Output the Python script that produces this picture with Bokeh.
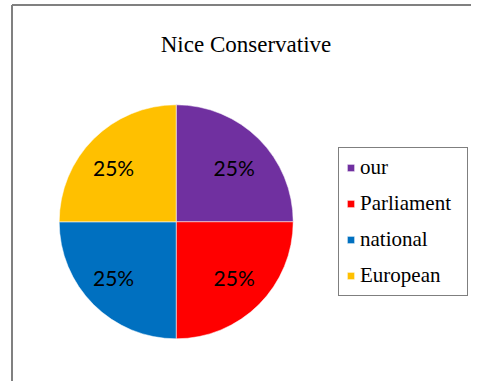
import math
from bokeh.plotting import figure
from bokeh.models import Range1d, Legend, LegendItem, Label
from bokeh.core.properties import value
from bokeh.embed import file_html
from bokeh.resources import INLINE

# ---- data ----
title_text = "Nice Conservative"
categories = ["our", "Parliament", "national", "European"]
values = [25, 25, 25, 25]
colors = ["#7030A0", "#FF0000", "#0070C0", "#FFC000"]

W, H = 471, 381
p = figure(width=W, height=H, output_backend="svg", toolbar_location=None,
           x_range=Range1d(0, W), y_range=Range1d(0, H), min_border=0)
p.axis.visible = False
p.grid.visible = False
p.outline_line_color = None
p.background_fill_color = "white"
p.border_fill_color = "white"

# pie geometry (screen px == data units)
cx, cy, r = 175.7, H - 221.3, 117
# label placement (page px): centre and offsets
lcx, lcy, ldx, ldy = 173.4, H - 222.2, 60.3, 55.2
total = float(sum(values))
starts, ends, lx, ly, labels = [], [], [], [], []
cum = 0.0
for v in values:
    frac = v / total
    a0 = math.pi / 2 - cum * 2 * math.pi
    a1 = math.pi / 2 - (cum + frac) * 2 * math.pi
    mid = (a0 + a1) / 2
    starts.append(a0)
    ends.append(a1)
    lx.append(lcx + ldx * math.cos(mid) / math.cos(math.pi / 4))
    ly.append(lcy + ldy * math.sin(mid) / math.sin(math.pi / 4))
    labels.append(f"{round(frac * 100)}%")
    cum += frac

renderers = []
for i in range(len(values)):
    rr = p.wedge(x=cx, y=cy, radius=r, radius_units="screen",
                 start_angle=starts[i], end_angle=ends[i], direction="clock",
                 fill_color=colors[i], line_color="white", line_width=0.5)
    renderers.append(rr)

p.text(x=lx, y=ly, text=labels, text_align="center", text_baseline="middle",
       text_font=value("Lato"), text_font_size="21px", text_color="#000000")

# title
p.add_layout(Label(x=245.5, y=H - 44.3, x_units="screen", y_units="screen",
                   text=title_text, text_align="center", text_baseline="alphabetic",
                   text_font="Liberation Serif", text_font_size="23px",
                   text_color="#000000"))

# legend
items = [LegendItem(label=c, renderers=[rr]) for c, rr in zip(categories, renderers)]
legend = Legend(items=items, location=(338, H - 296), orientation="vertical",
                glyph_width=9, glyph_height=9, label_standoff=5,
                label_text_font="Liberation Serif", label_text_font_size="21px",
                label_text_color="#000000", label_height=24, label_width=100,
                spacing=11, padding=7, margin=0,
                border_line_color="#000000", border_line_width=1,
                background_fill_color="white", background_fill_alpha=1.0)
p.add_layout(legend, "center")

# chart frame border (left and top edges)
p.segment(x0=[11.5, 11.5], y0=[0, H - 4.5], x1=[11.5, W], y1=[H - 4.5, H - 4.5],
          line_color="#808080", line_width=2)

open("out.html", "w").write(file_html(p, INLINE))
